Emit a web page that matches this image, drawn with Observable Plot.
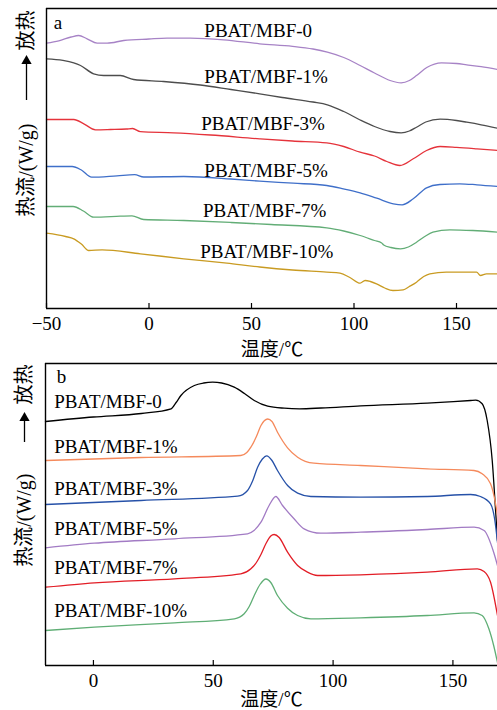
<!DOCTYPE html>
<html><head><meta charset="utf-8">
<script src="https://cdn.jsdelivr.net/npm/d3@7"></script>
<script src="https://cdn.jsdelivr.net/npm/@observablehq/plot@0.6"></script>
<style>
body{margin:0;background:#fff;overflow:hidden}
#chart svg{display:block}
</style></head><body><div id="chart"></div>
<script>
const seriesNames = ["PBAT/MBF-0","PBAT/MBF-1%","PBAT/MBF-3%","PBAT/MBF-5%","PBAT/MBF-7%","PBAT/MBF-10%"];
const xTicksA = [-50, 0, 50, 100, 150];
const xTicksB = [0, 50, 100, 150];
const xLabel = "温度/℃";
const yLabelLow = "热流/(W/g)";
const yLabelHigh = "放热";

// Panel a (heating), [temperature °C, heat flow arbitrary units]
const heatA0 = [[-50,26.53],[-44,26.77],[-38,27.15],[-34.3,27.3],[-30.2,26.97],[-25.3,26.53],[-20.4,26.53],[-12.3,26.8],[0,26.95],[8.8,27.03],[20.1,27.03],[36.4,26.87],[54,26.47],[70,26.22],[80,25.95],[87,25.63],[95,25.1],[103,24.3],[110,23.55],[117.6,22.8],[123,22.57],[127,22.8],[130.5,23.3],[135.5,24.1],[142.7,24.57],[150,24.5],[155,24.37],[162,24.18],[170,23.9]];
const heatA1 = [[-50,24.97],[-42,24.82],[-36.7,24.57],[-33.4,24.3],[-27,23.47],[-22.1,23.3],[-14,23.3],[-7.5,22.9],[7.1,22.7],[25,22.35],[40,21.9],[54,21.47],[65,21.1],[80,20.65],[87,20.37],[95,19.7],[103,18.85],[110,18.2],[117.6,17.7],[123,17.57],[127,17.75],[130.5,18.13],[135,18.65],[142,18.93],[150,18.8],[155,18.63],[162,18.37],[170,18.03]];
const heatA3 = [[-50,18.9],[-36.7,18.9],[-31.8,18.47],[-26.1,17.87],[-18.8,17.9],[-11,17.95],[-8,18.0],[-4.2,17.68],[12,17.57],[30,17.35],[54,16.97],[70,16.75],[86.7,16.57],[95,16.2],[103,15.63],[110,15.25],[116,14.7],[122.4,14.3],[128.9,14.97],[135.4,15.8],[142,16.2],[150,16.12],[160,15.97],[170,15.8]];
const heatA5 = [[-50,14.2],[-37.5,14.2],[-33,13.85],[-28,13.13],[-15.6,13.27],[-7,13.38],[-2.6,13.15],[17,13.2],[40,12.95],[54,12.73],[70.3,12.53],[86.7,12.3],[94.8,11.97],[103,11.57],[111.1,11.03],[119.2,10.47],[123.5,10.37],[128.9,10.97],[135.4,12.07],[141.9,12.4],[151.6,12.47],[160,12.37],[170,12.2]];
const heatA7 = [[-50,10.2],[-37,10.2],[-32,9.75],[-27,9.13],[-14,9.23],[-8.3,9.27],[-2.6,8.9],[17,8.8],[40,8.6],[59.6,8.4],[86.7,8.07],[95,7.75],[103,7.3],[110,6.8],[113.5,6.55],[114.5,6.35],[118,6.1],[122.7,5.97],[126.5,6.15],[130.5,6.63],[134.5,7.2],[138.5,7.63],[146.8,7.87],[158,7.8],[170,7.63]];
const heatA10 = [[-50,7.53],[-40.7,7.2],[-36.7,6.97],[-33,6.45],[-29.4,5.8],[-22.9,5.87],[-4.2,5.47],[17,4.97],[38,4.53],[54,4.15],[70,3.85],[86.7,3.63],[93.2,3.53],[98,3.1],[103,2.53],[105.4,2.8],[108,2.7],[111,2.47],[115,2.05],[119,1.8],[124,1.87],[127,2.2],[130.5,2.63],[134,3.2],[137,3.47],[145,3.63],[159.8,3.63],[161.7,3.3],[164.6,3.47],[170,3.47]];

// Panel b (cooling)
const coolB0 = [[-20,24.4],[0,24.85],[20,25.2],[32.4,25.67],[34.5,26.3],[36.5,27],[42.1,28],[46,28.25],[49.75,28.33],[53.5,28.25],[58.75,27.83],[63,27.2],[67.1,26.5],[72.7,25.93],[79.6,25.73],[86,25.67],[95,25.75],[111.5,25.97],[139.3,26.23],[157.4,26.5],[159.5,26.53],[162.2,26.17],[164.3,24.5],[166.4,20.5],[167.8,15.5],[168.6,12.5]];
const coolB1 = [[-20,20.5],[19.9,20.8],[61.5,21],[64,21.3],[65.7,21.83],[68,22.9],[69.9,24],[72.7,24.65],[74.5,24.4],[76.8,23.33],[81,21.77],[85.2,20.83],[92,20.23],[111.5,20],[139.3,19.67],[158.8,19.5],[162.2,19.17],[165.7,18.17],[167.8,16.17],[168.6,15]];
const coolB3 = [[-20,16.1],[19.9,16.5],[60.2,16.93],[64.3,17.5],[66.5,18.5],[68.5,19.83],[70.5,20.65],[72.3,20.97],[74.5,20.5],[76.8,19.5],[81,18],[85.2,17.23],[90.7,16.9],[111.5,16.83],[139.3,16.9],[157.4,17.1],[161.5,16.9],[165.7,16.17],[167.5,14.5],[168.6,12.3]];
const coolB5 = [[-20,11.77],[0.4,12.23],[33.8,12.67],[64.3,13.17],[67,13.5],[69.9,14.33],[73.3,16],[76.1,16.9],[78.9,16],[83.7,14.67],[87.9,13.67],[94.9,13.23],[111.5,13.33],[139.3,13.6],[158.8,13.83],[163,13.5],[167,11.33],[168.6,10]];
const coolB7 = [[-20,7.83],[0.4,8.27],[33.8,8.67],[61.5,9.17],[65.7,9.67],[68,10.3],[69.9,11.1],[72,12.2],[74,12.95],[75.4,13.1],[77.5,12.8],[81,11.33],[85.2,10],[89.3,9.33],[93.5,9],[111.5,9.07],[139.3,9.33],[160.2,9.67],[163,9.4],[165.7,8.33],[168.6,5]];
const coolB10 = [[-20,3.5],[0.4,3.83],[33.8,4.27],[58.8,4.67],[62.9,5.17],[65,5.9],[67.1,7],[69.5,8.1],[72,8.65],[74,8.3],[76.8,7],[81,5.73],[85.2,5],[90.7,4.67],[111.5,4.77],[139.3,5],[158.8,5.27],[162.2,5],[165,3.67],[167,2],[168.6,0.3]];

// curve label anchors (temperature, heat flow)
const labelTA = [27, 27, 25.5, 27, 26.3, 25];
const labelVA = [27.8, 23.13, 18.47, 13.8, 9.75, 5.7];
const labelTB = [-16.4, -16.4, -16.4, -16.4, -16.4, -16.4];
const labelVB = [26.4, 21.85, 17.7, 13.7, 9.8, 5.5];

const colorsA = ["#a783c6", "#4d4d4d", "#e5333b", "#3f6fc9", "#62ad76", "#c99b22"];
const colorsB = ["#000000", "#f58a5c", "#2651a8", "#a27bc4", "#e21d26", "#5fae75"];

function toRows(list) {
  return list.flatMap((arr, i) => arr.map(([T, v]) => ({series: seriesNames[i], T, v})));
}
function toLabels(ts, vs) {
  return seriesNames.map((name, i) => ({name, T: ts[i], v: vs[i]}));
}

const FONT = "'Liberation Serif','Times New Roman','Noto Sans CJK SC',serif";

function panel(o) {
  const innerH = o.height - o.mt - o.mb;
  const bottom = o.mt + innerH;
  return Plot.plot({
    width: 497, height: o.height,
    marginTop: o.mt, marginBottom: o.mb, marginLeft: o.ml, marginRight: 0,
    style: {fontFamily: FONT, fontSize: "19px", color: "#000", background: "#fff", overflow: "visible"},
    x: {domain: o.xDomain},
    y: {domain: o.yDomain, axis: null},
    color: {domain: seriesNames, range: o.colors},
    marks: [
      Plot.line(o.data, {x: "T", y: "v", z: "series", stroke: "series", strokeWidth: 1.3, curve: "monotone-x"}),
      Plot.text(o.labels, {x: "T", y: "v", text: "name", textAnchor: "start", lineAnchor: "middle", fontSize: 19, fill: "#000"}),
      Plot.ruleY(o.yDomain, {stroke: "#000", strokeWidth: 1.4}),
      Plot.ruleX([o.xDomain[0]], {stroke: "#000", strokeWidth: 1.4}),
      Plot.ruleX(o.ticks, {insetTop: innerH - 5, stroke: "#000", strokeWidth: 1.2}),
      Plot.axisX({ticks: o.ticks, tickSize: 0, tickPadding: 8, fontSize: 19, label: null}),
      Plot.text([xLabel], {text: d => d, frameAnchor: "bottom", textAnchor: "middle", lineAnchor: "middle", dy: o.titleDy, fontSize: 19}),
      Plot.text([o.letter], {text: d => d, frameAnchor: "top-left", textAnchor: "middle", lineAnchor: "middle", dx: o.letterDx, dy: o.letterDy, fontSize: 19}),
      // y label: 热流/(W/g) —→ 放热 (exothermic up); offsets are relative to the SVG top
      Plot.text([yLabelHigh], {text: d => d, frameAnchor: "top-left", rotate: -90, textAnchor: "end", lineAnchor: "middle", dx: o.yDx, dy: o.yHigh - o.mt, fontSize: 20}),
      Plot.text([yLabelLow], {text: d => d, frameAnchor: "top-left", rotate: -90, textAnchor: "end", lineAnchor: "middle", dx: o.yDx, dy: o.yLow - o.mt, fontSize: 20}),
      Plot.ruleX([o.xDomain[0]], {dx: o.yDx, insetTop: o.arrowTip + 7 - o.mt, insetBottom: bottom - o.arrowTail, stroke: "#000", strokeWidth: 1.3}),
      Plot.dot([0], {frameAnchor: "top-left", dx: o.yDx, dy: o.arrowTip + 5.5 - o.mt, symbol: "triangle", r: 3.8, fill: "#000", stroke: null})
    ]
  });
}

const chart = document.getElementById("chart");
chart.append(panel({
  data: toRows([heatA0, heatA1, heatA3, heatA5, heatA7, heatA10]),
  labels: toLabels(labelTA, labelVA),
  xDomain: [-50, 170], yDomain: [0, 30], ticks: xTicksA, colors: colorsA,
  height: 362, mt: 8, mb: 54, ml: 46, titleDy: 41,
  letter: "a", letterDx: 11.5, letterDy: 14, yDx: -20,
  yHigh: 10, arrowTip: 55, arrowTail: 100, yLow: 123
}));
chart.append(panel({
  data: toRows([coolB0, coolB1, coolB3, coolB5, coolB7, coolB10]),
  labels: toLabels(labelTB, labelVB),
  xDomain: [-20, 168.6], yDomain: [0, 30.2], ticks: xTicksB, colors: colorsB,
  height: 348, mt: 1, mb: 45, ml: 45, titleDy: 34,
  letter: "b", letterDx: 16, letterDy: 13, yDx: -21,
  yHigh: 2, arrowTip: 50, arrowTail: 80, yLow: 111
}));
</script></body></html>
